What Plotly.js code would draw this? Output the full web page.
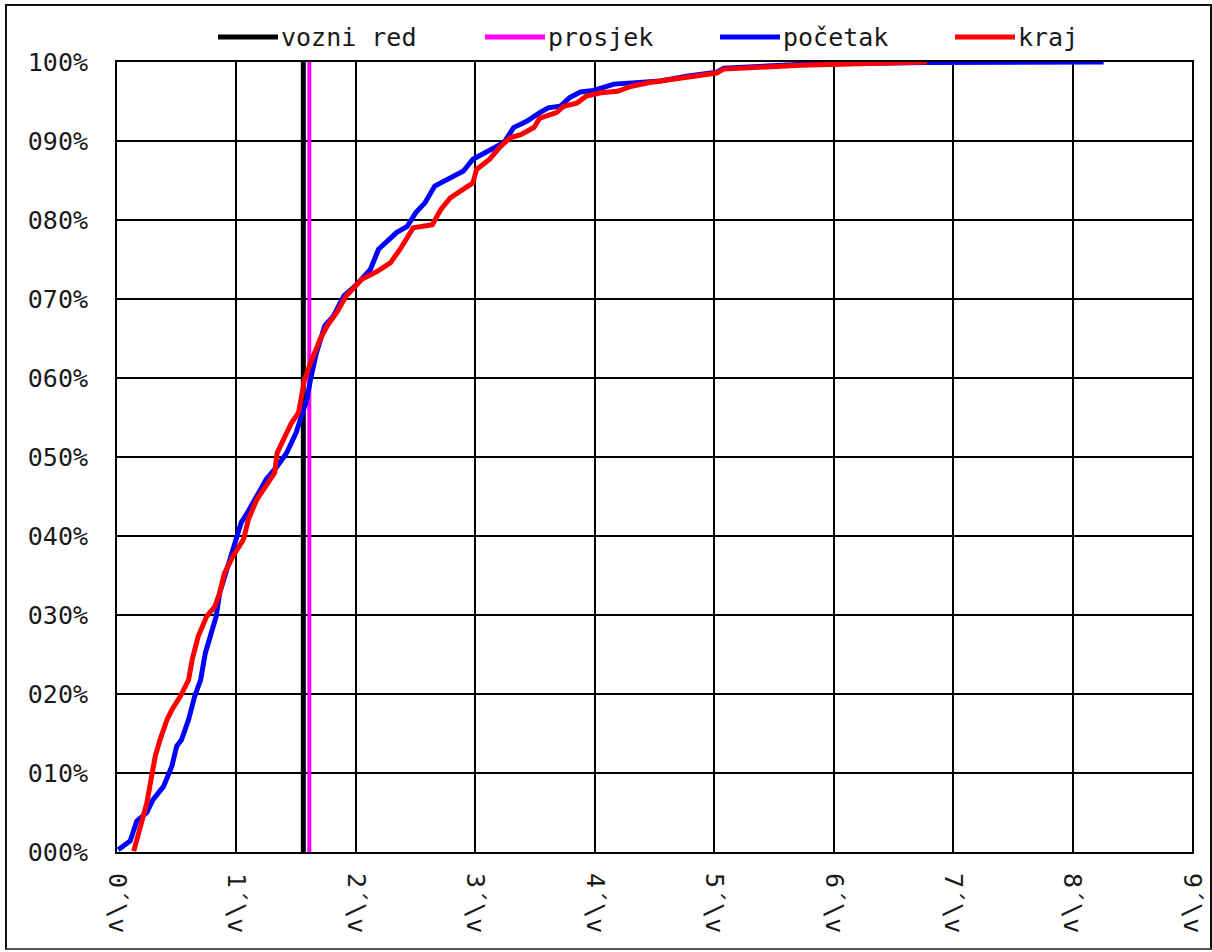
<!DOCTYPE html>
<html>
<head>
<meta charset="utf-8">
<script src="https://cdn.plot.ly/plotly-3.0.1.min.js"></script>
<style>
  html, body { margin: 0; padding: 0; background: #ffffff; }
  #chart { position: absolute; left: 0; top: 0; width: 1212px; height: 952px; }
  #frame { position: absolute; left: 5px; top: 4px; width: 1203px; height: 942px;
           border: 2px solid #111; border-bottom-color: #555; pointer-events: none; }
</style>
</head>
<body>
<div id="chart"></div>
<div id="frame"></div>
<script>
// ---------------- data ----------------
const seriesNames = ['vozni red', 'prosjek', 'početak', 'kraj'];

const scheduleValue = 1.56;   // vozni red
const meanValue = 1.61;       // prosjek

const startX = [0.01, 0.11, 0.165, 0.25, 0.30, 0.39, 0.46, 0.50, 0.54, 0.60, 0.65, 0.70, 0.74, 0.78, 0.83, 0.86, 0.90, 0.95, 1.00, 1.04, 1.09, 1.17, 1.25, 1.34, 1.42, 1.50, 1.59, 1.62, 1.67, 1.74, 1.81, 1.90, 1.99, 2.12, 2.19, 2.34, 2.43, 2.50, 2.58, 2.66, 2.79, 2.90, 2.98, 3.12, 3.24, 3.32, 3.43, 3.54, 3.61, 3.71, 3.79, 3.88, 3.99, 4.16, 4.32, 4.55, 4.77, 5.02, 5.08, 5.72, 6.78, 8.26];
const startY = [0.3, 1.4, 3.9, 5.0, 6.6, 8.3, 10.9, 13.4, 14.2, 16.8, 19.7, 21.8, 25.2, 27.3, 29.8, 32.8, 34.9, 37.0, 39.6, 41.7, 42.9, 45.0, 47.2, 48.8, 50.5, 53.1, 57.3, 59.8, 63.2, 66.6, 67.8, 70.4, 71.6, 73.7, 76.3, 78.4, 79.2, 80.9, 82.2, 84.3, 85.3, 86.2, 87.7, 88.9, 89.8, 91.7, 92.5, 93.6, 94.2, 94.4, 95.5, 96.2, 96.4, 97.2, 97.4, 97.6, 98.2, 98.7, 99.2, 99.7, 99.95, 100];

const endX = [0.14, 0.165, 0.21, 0.25, 0.29, 0.32, 0.36, 0.42, 0.46, 0.53, 0.60, 0.63, 0.68, 0.75, 0.82, 0.86, 0.90, 0.97, 1.06, 1.10, 1.17, 1.25, 1.32, 1.34, 1.39, 1.46, 1.52, 1.55, 1.57, 1.62, 1.70, 1.76, 1.84, 1.92, 2.05, 2.18, 2.29, 2.37, 2.48, 2.64, 2.71, 2.79, 2.90, 2.98, 3.01, 3.12, 3.21, 3.29, 3.38, 3.49, 3.54, 3.68, 3.74, 3.85, 3.93, 4.05, 4.19, 4.30, 4.46, 4.74, 5.02, 5.08, 5.72, 6.78];
const endY = [0.1, 1.6, 4.1, 6.2, 9.6, 12.1, 14.2, 16.8, 18.0, 19.7, 21.8, 24.4, 27.3, 29.8, 31.1, 32.8, 35.3, 37.4, 39.6, 42.1, 44.6, 46.3, 48.0, 50.5, 52.2, 54.3, 55.6, 57.7, 59.8, 61.9, 64.9, 66.6, 68.3, 70.4, 72.5, 73.5, 74.6, 76.3, 79.0, 79.4, 81.3, 82.8, 83.9, 84.7, 86.4, 87.7, 89.3, 90.4, 90.8, 91.7, 92.9, 93.6, 94.4, 94.8, 95.7, 96.1, 96.3, 96.9, 97.4, 98.0, 98.6, 99.1, 99.6, 100];

const xTickVals = [0, 1, 2, 3, 4, 5, 6, 7, 8, 9];
const xTickText = ['0´\\v', '1´\\v', '2´\\v', '3´\\v', '4´\\v', '5´\\v', '6´\\v', '7´\\v', '8´\\v', '9´\\v'];
const yTickVals = [0, 10, 20, 30, 40, 50, 60, 70, 80, 90, 100];
const yTickText = ['000%', '010%', '020%', '030%', '040%', '050%', '060%', '070%', '080%', '090%', '100%'];

// ---------------- styling ----------------
const colors = ['#000000', '#ff00ff', '#0000ff', '#ff0000'];
const FONT = '"DejaVu Sans Mono", "Liberation Mono", monospace';
const W = 1212, H = 952;
const M = { l: 117, r: 20, t: 62, b: 100 };
const plotW = W - M.l - M.r, plotH = H - M.t - M.b;
const pxToPaperX = px => (px - M.l) / plotW;
const pxToPaperY = py => (H - M.b - py) / plotH;

const traces = [
  { x: [scheduleValue, scheduleValue], y: [0, 100], name: seriesNames[0], mode: 'lines',
    line: { color: colors[0], width: 5 }, showlegend: false },
  { x: [meanValue, meanValue], y: [0, 100], name: seriesNames[1], mode: 'lines',
    line: { color: colors[1], width: 4 }, showlegend: false },
  { x: startX, y: startY, name: seriesNames[2], mode: 'lines',
    line: { color: colors[2], width: 5 }, showlegend: false },
  { x: endX, y: endY, name: seriesNames[3], mode: 'lines',
    line: { color: colors[3], width: 5 }, showlegend: false }
];

// custom legend (line sample + text) across the top
const legendLineStart = [218, 485, 720, 955];
const legendY = 37;
const shapes = [];
const annotations = [];
seriesNames.forEach((nm, i) => {
  const x0 = legendLineStart[i];
  shapes.push({ type: 'line', xref: 'paper', yref: 'paper',
    x0: pxToPaperX(x0), x1: pxToPaperX(x0 + 60),
    y0: pxToPaperY(legendY), y1: pxToPaperY(legendY),
    line: { color: colors[i], width: 5 } });
  annotations.push({ xref: 'paper', yref: 'paper', x: pxToPaperX(x0 + 61), y: pxToPaperY(legendY),
    xanchor: 'left', yanchor: 'middle', text: nm, showarrow: false,
    font: { family: FONT, size: 25, color: '#1a1a1a' } });
});

const layout = {
  width: W, height: H,
  margin: M,
  paper_bgcolor: '#ffffff', plot_bgcolor: '#ffffff',
  showlegend: false,
  font: { family: FONT, size: 25, color: '#1a1a1a' },
  xaxis: {
    range: [0, 9], tickmode: 'array', tickvals: xTickVals, ticktext: xTickText,
    tickangle: 90, showgrid: true, gridcolor: '#000000', gridwidth: 2,
    zeroline: false, showline: true, linecolor: '#000000', linewidth: 2, mirror: true,
    ticks: '', ticklabelstandoff: 14,
    tickfont: { family: FONT, size: 25, color: '#1a1a1a' }, fixedrange: true
  },
  yaxis: {
    range: [0, 100], tickmode: 'array', tickvals: yTickVals, ticktext: yTickText,
    showgrid: true, gridcolor: '#000000', gridwidth: 2,
    zeroline: false, showline: true, linecolor: '#000000', linewidth: 2, mirror: true,
    ticks: '', ticklabelstandoff: 22,
    tickfont: { family: FONT, size: 25, color: '#1a1a1a' }, fixedrange: true
  },
  shapes: shapes,
  annotations: annotations
};

Plotly.newPlot('chart', traces, layout, { displayModeBar: false, staticPlot: true });
</script>
</body>
</html>
